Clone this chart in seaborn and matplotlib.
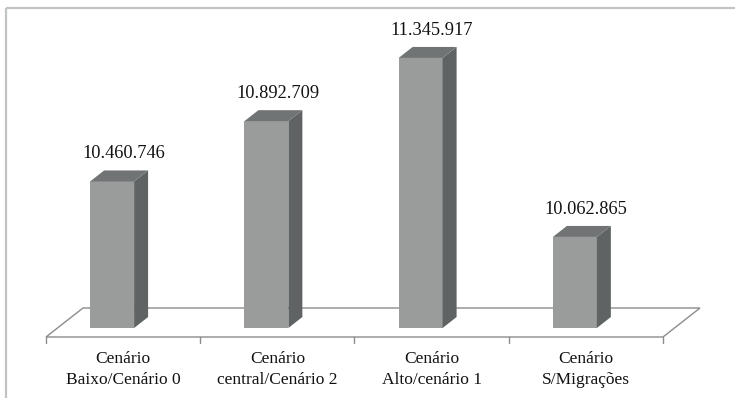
import matplotlib
matplotlib.use("Agg")
import matplotlib.pyplot as plt
import seaborn as sns
import pandas as pd
from matplotlib.patches import Polygon

# Projected population by scenario
categories = ["Cenário\nBaixo/Cenário 0", "Cenário\ncentral/Cenário 2",
              "Cenário\nAlto/cenário 1", "Cenário\nS/Migrações"]
values = [10460746, 10892709, 11345917, 10062865]
value_labels = ["10.460.746", "10.892.709", "11.345.917", "10.062.865"]

df = pd.DataFrame({"cenario": categories, "populacao": values})

sns.set_theme(style="white")
plt.rcParams["font.family"] = ["Liberation Serif", "DejaVu Serif"]

W, H = 735, 398
fig = plt.figure(figsize=(W / 100, H / 100), dpi=100)
fig.patch.set_facecolor("white")

# Overlay in pixel coordinates for floor, frame and category labels
bg = fig.add_axes([0, 0, 1, 1], zorder=0)
bg.set_xlim(0, W)
bg.set_ylim(H, 0)
bg.axis("off")

floor_l, floor_r, floor_front, floor_back = 46, 663, 337, 308
depth_dx = 37
floor = Polygon([(floor_l, floor_front), (floor_r, floor_front),
                 (floor_r + depth_dx, floor_back), (floor_l + depth_dx, floor_back)],
                closed=True, facecolor="white", edgecolor="#8c8c8c", lw=1.0)
bg.add_patch(floor)

step = (floor_r - floor_l) / len(categories)
for i in range(len(categories) + 1):
    x = floor_l + i * step
    bg.plot([x, x], [floor_front, floor_front + 6], color="#8c8c8c", lw=1.0)
for i, lab in enumerate(categories):
    bg.text(floor_l + (i + 0.5) * step, 351, lab, ha="center", va="top",
            fontsize=12.5, color="#111111", linespacing=1.4)

# chart frame (top and left edges visible)
bg.plot([6, W], [8, 8], color="#c0c4c4", lw=1.6, solid_capstyle="butt")
bg.plot([6, 6], [8, H], color="#c0c4c4", lw=1.6, solid_capstyle="butt")

# Main axes holding the bars (front plane)
ax_l, ax_r, ax_b, ax_t = 35, 652, 328, 8
ax = fig.add_axes([ax_l / W, (H - ax_b) / H, (ax_r - ax_l) / W, (ax_b - ax_t) / H], zorder=1)
ax.patch.set_alpha(0)
front_c, side_c, top_c = "#9a9c9c", "#5f6363", "#717474"
sns.barplot(data=df, x="cenario", y="populacao", color=front_c, width=0.285,
            saturation=1, ax=ax, edgecolor="none")
ymin, ymax = 9.41e6, 11.704e6
ax.set_xlim(-0.5, len(categories) - 0.5)
ax.set_ylim(ymin, ymax)
ax.axis("off")

px_x = len(categories) / (ax_r - ax_l)
px_y = (ymax - ymin) / (ax_b - ax_t)
dx, dy = 14 * px_x, 11 * px_y

for bar, lab in zip(ax.patches, value_labels):
    x0 = bar.get_x()
    x1 = x0 + bar.get_width()
    y0 = ymin
    y1 = bar.get_height()
    side = Polygon([(x1, y0), (x1 + dx, y0 + dy), (x1 + dx, y1 + dy), (x1, y1)],
                   closed=True, facecolor=side_c, edgecolor="none")
    top = Polygon([(x0, y1), (x1, y1), (x1 + dx, y1 + dy), (x0 + dx, y1 + dy)],
                  closed=True, facecolor=top_c, edgecolor="none")
    ax.add_patch(side)
    ax.add_patch(top)
    ax.text((x0 + x1) / 2 + dx * 0.8, y1 + dy + 8 * px_y, lab, ha="center", va="bottom",
            fontsize=13.2, color="#111111")

fig.savefig("out.png", dpi=100, facecolor="white")
